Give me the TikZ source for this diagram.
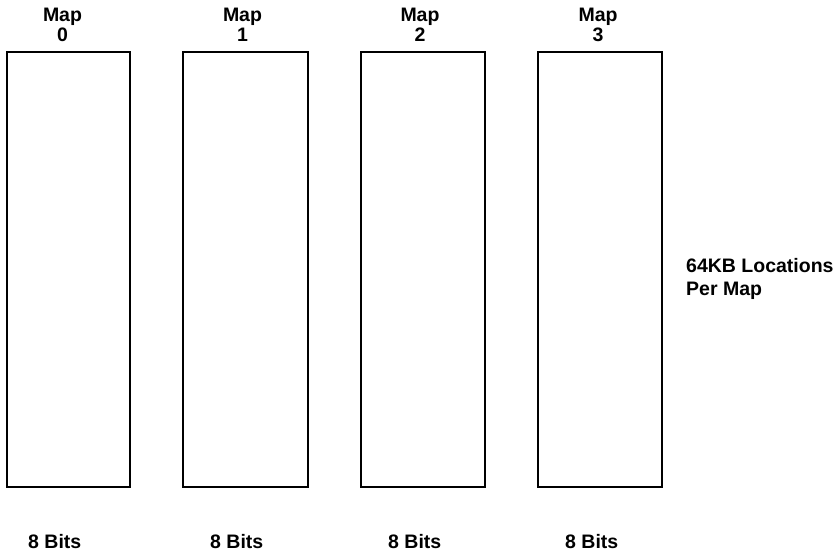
\documentclass[tikz,border=0pt]{standalone}
\usepackage{fontspec}
\setmainfont{Liberation Sans}
\usepackage{tikz}
\usetikzlibrary{positioning}

\begin{document}
\begin{tikzpicture}[
  x=1pt,y=-1pt,
  mapbox/.style={draw=black,line width=1.2pt,inner sep=0pt,minimum height=435pt},
  head/.style={align=center,font=\bfseries\fontsize{19.5}{20}\selectfont,inner sep=0pt},
  bits/.style={anchor=base west,font=\bfseries\fontsize{19.5}{20}\selectfont,inner sep=0pt},
  note/.style={anchor=north west,align=left,font=\bfseries\fontsize{19.5}{23}\selectfont,inner sep=0pt}
]
\useasboundingbox (0,0) rectangle (840,552);
% the four maps
\node[mapbox,minimum width=123pt] (map0) at (68.5,269.5) {};
\node[mapbox,minimum width=125pt] (map1) at (245.5,269.5) {};
\node[mapbox,minimum width=124pt] (map2) at (423,269.5) {};
\node[mapbox,minimum width=124pt] (map3) at (600,269.5) {};
% headings
\node[head] (h0) at (62.5,25) {Map\\0};
\node[head] (h1) at (242.5,25) {Map\\1};
\node[head] (h2) at (420,25) {Map\\2};
\node[head] (h3) at (598,25) {Map\\3};
% widths
\node[bits] (b0) at (28,548) {8 Bits};
\node[bits] (b1) at (210,548) {8 Bits};
\node[bits] (b2) at (388,548) {8 Bits};
\node[bits] (b3) at (565,548) {8 Bits};
\node[note] (depth) at (686,258) {64KB Locations\\Per Map};
\end{tikzpicture}
\end{document}
